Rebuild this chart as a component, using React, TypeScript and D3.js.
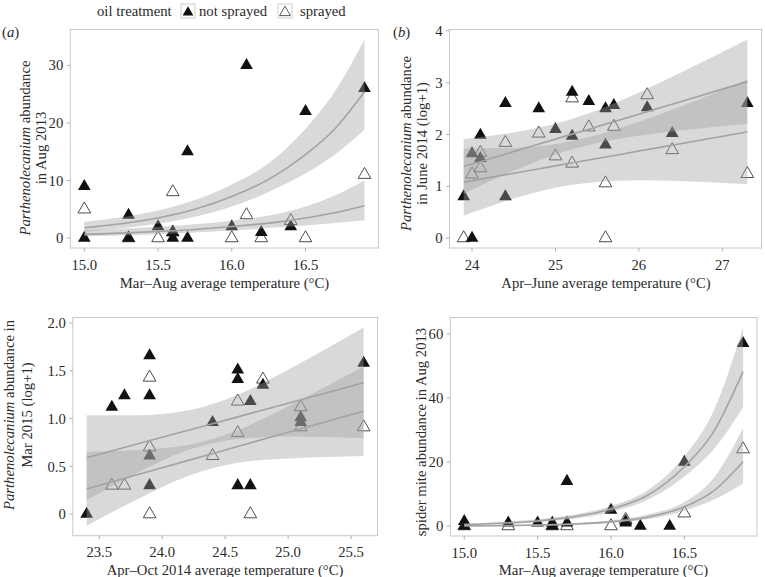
import React from 'react';
import * as d3 from 'd3';

type Pt = [number, number];

// ---------- Panel (a): Parthenolecanium, Aug 2013 vs Mar–Aug temperature ----------
const aNotSprayed: Pt[] = [
  [15.0, 9], [15.0, 0], [15.3, 4], [15.3, 0], [15.5, 2], [15.6, 1], [15.6, 0], [15.7, 15], [15.7, 0],
  [16.0, 2], [16.1, 30], [16.2, 1], [16.4, 2], [16.5, 22], [16.9, 26],
];
const aSprayed: Pt[] = [
  [15.0, 5], [15.3, 0], [15.5, 0], [15.6, 8], [15.6, 1], [16.0, 0], [16.1, 4], [16.2, 0], [16.4, 3], [16.5, 0], [16.9, 11],
];
const aFitX = [15.0, 15.25, 15.5, 15.75, 16.0, 16.25, 16.5, 16.7, 16.9];
const aFitNS = [1.8, 2.5, 3.5, 5.0, 7.2, 10.2, 14.5, 19.0, 25.4];
const aLoNS = [1.1, 1.7, 2.5, 3.7, 5.5, 8.0, 11.2, 14.5, 18.8];
const aHiNS = [2.8, 3.6, 4.8, 6.6, 9.3, 13.0, 19.0, 25.5, 34.5];
const aFitSP = [0.65, 0.86, 1.14, 1.5, 2.0, 2.6, 3.5, 4.4, 5.6];
const aLoSP = [0.3, 0.45, 0.65, 0.95, 1.3, 1.75, 2.2, 2.6, 3.1];
const aHiSP = [1.4, 1.6, 1.95, 2.4, 3.0, 3.9, 5.5, 7.4, 10.0];
const aXTicks = [15.0, 15.5, 16.0, 16.5];
const aYTicks = [0, 10, 20, 30];

// ---------- Panel (b): Parthenolecanium, June 2014 vs Apr–June temperature ----------
const bNotSprayed: Pt[] = [
  [23.9, 0.8], [24.0, 0], [24.0, 1.63], [24.1, 1.99], [24.1, 1.54], [24.4, 2.6], [24.4, 0.8], [24.8, 2.5],
  [25.0, 2.1], [25.2, 2.82], [25.2, 1.97], [25.4, 2.64], [25.6, 2.5], [25.6, 1.8], [25.7, 2.56],
  [26.1, 2.52], [26.4, 2.02], [27.3, 2.6],
];
const bSprayed: Pt[] = [
  [23.9, 0], [24.0, 1.23], [24.1, 1.65], [24.1, 1.35], [24.4, 1.84], [24.8, 2.02], [25.0, 1.58], [25.2, 2.7],
  [25.2, 1.44], [25.4, 2.14], [25.6, 1.06], [25.6, 0], [25.7, 2.15], [26.1, 2.76], [26.4, 1.7], [27.3, 1.24],
];
const bFitX = [23.9, 24.5, 25.0, 25.5, 26.0, 26.5, 27.3];
const bFitNS = [1.38, 1.669, 1.91, 2.151, 2.392, 2.633, 3.02];
const bLoNS = [0.852, 1.299, 1.615, 1.836, 1.974, 2.075, 2.206];
const bHiNS = [1.908, 2.039, 2.205, 2.466, 2.81, 3.191, 3.834];
const bFitSP = [1.08, 1.251, 1.394, 1.536, 1.679, 1.821, 2.05];
const bLoSP = [0.43, 0.762, 0.972, 1.084, 1.115, 1.1, 1.038];
const bHiSP = [1.73, 1.74, 1.816, 1.988, 2.243, 2.542, 3.062];
const bXTicks = [24, 25, 26, 27];
const bYTicks = [0, 1, 2, 3, 4];

// ---------- Panel (c): Parthenolecanium, Mar 2015 vs Apr–Oct 2014 temperature ----------
const cNotSprayed: Pt[] = [
  [23.4, 0], [23.6, 1.12], [23.7, 1.24], [23.9, 1.66], [23.9, 1.24], [23.9, 0.61], [23.9, 0.3],
  [24.4, 0.96], [24.6, 1.51], [24.6, 1.41], [24.6, 0.3], [24.7, 1.18], [24.7, 0.3], [24.8, 1.35],
  [25.1, 1.01], [25.1, 0.96], [25.6, 1.58],
];
const cSprayed: Pt[] = [
  [23.6, 0.3], [23.7, 0.3], [23.9, 1.43], [23.9, 0.7], [23.9, 0], [24.4, 0.61], [24.6, 1.18], [24.6, 0.85],
  [24.7, 0], [24.8, 1.41], [25.1, 1.12], [25.1, 0.91], [25.6, 0.91],
];
const cFitX = [23.4, 23.8, 24.2, 24.6, 25.0, 25.3, 25.6];
const cFitNS = [0.59, 0.733, 0.876, 1.018, 1.161, 1.267, 1.374];
const cLoNS = [0.145, 0.43, 0.668, 0.787, 0.812, 0.806, 0.794];
const cHiNS = [1.035, 1.035, 1.084, 1.249, 1.51, 1.728, 1.954];
const cFitSP = [0.264, 0.412, 0.56, 0.708, 0.856, 0.967, 1.078];
const cLoSP = [-0.122, 0.154, 0.397, 0.537, 0.583, 0.598, 0.608];
const cHiSP = [0.65, 0.67, 0.723, 0.879, 1.129, 1.336, 1.548];
const cXTicks = [23.5, 24.0, 24.5, 25.0, 25.5];
const cYTicks = [0, 0.5, 1.0, 1.5, 2.0];

// ---------- Panel (d): spider mites, Aug 2013 vs Mar–Aug temperature ----------
const dNotSprayed: Pt[] = [
  [15.0, 1.5], [15.0, 0], [15.3, 1], [15.5, 1], [15.6, 1], [15.6, 0], [15.7, 14], [15.7, 1],
  [16.0, 5], [16.1, 1.5], [16.1, 1], [16.2, 0], [16.4, 0], [16.5, 20], [16.9, 57],
];
const dSprayed: Pt[] = [
  [15.0, 0], [15.3, 0], [15.6, 0], [15.7, 0], [16.0, 0], [16.1, 2], [16.5, 4], [16.9, 24],
];
const dFitX = [15.0, 15.25, 15.5, 15.75, 16.0, 16.25, 16.5, 16.7, 16.9];
const dFitNS = [0.5, 0.9, 1.6, 2.9, 5.3, 9.6, 18.5, 29.5, 48.2];
const dLoNS = [0.3, 0.6, 1.2, 2.3, 4.4, 8.2, 15.5, 24, 37];
const dHiNS = [0.8, 1.3, 2.1, 3.6, 6.3, 11.2, 21.8, 36, 62];
const dFitSP = [0.06, 0.13, 0.29, 0.62, 1.3, 2.8, 6.0, 11, 20.1];
const dLoSP = [0.02, 0.06, 0.16, 0.4, 0.95, 2.1, 4.8, 8.2, 13.3];
const dHiSP = [0.15, 0.28, 0.5, 0.95, 1.8, 3.6, 7.5, 15, 30.5];
const dXTicks = [15.0, 15.5, 16.0, 16.5];
const dYTicks = [0, 20, 40, 60];

const legendLabels = ['not sprayed', 'sprayed'];

const FONT = 'Liberation Serif, Times New Roman, Times, serif';
const FS = 14.7;
const TXT = '#2a2a2a';

type PanelProps = {
  id: string;
  x0: number; x1: number; y0: number; y1: number;
  xDom: [number, number]; yDom: [number, number];
  xTicks: number[]; yTicks: number[];
  xFmt: (v: number) => string; yFmt: (v: number) => string;
  ns: Pt[]; sp: Pt[];
  fitX: number[];
  nsFit: number[]; nsLo: number[]; nsHi: number[];
  spFit: number[]; spLo: number[]; spHi: number[];
};

const triPath = d3.symbol(d3.symbolTriangle, 70)() as string;

function Panel(p: PanelProps) {
  const x = d3.scaleLinear().domain(p.xDom).range([p.x0, p.x1]);
  const y = d3.scaleLinear().domain(p.yDom).range([p.y1, p.y0]);
  const area = (lo: number[], hi: number[]) =>
    d3.area<number>()
      .x((_, i) => x(p.fitX[i]))
      .y0((_, i) => y(lo[i]))
      .y1((_, i) => y(hi[i]))
      .curve(d3.curveMonotoneX)(p.fitX) as string;
  const line = (f: number[]) =>
    d3.line<number>()
      .x((_, i) => x(p.fitX[i]))
      .y((_, i) => y(f[i]))
      .curve(d3.curveMonotoneX)(p.fitX) as string;
  return (
    <g>
      <defs>
        <clipPath id={p.id}>
          <rect x={p.x0} y={p.y0} width={p.x1 - p.x0} height={p.y1 - p.y0} />
        </clipPath>
      </defs>
      <g clipPath={`url(#${p.id})`}>
        {p.sp.map((d, i) => (
          <path key={'s' + i} d={triPath} transform={`translate(${x(d[0])},${y(d[1])})`}
            fill="none" stroke="#3a3a3a" strokeWidth={0.9} />
        ))}
        {p.ns.map((d, i) => (
          <path key={'n' + i} d={triPath} transform={`translate(${x(d[0])},${y(d[1])})`} fill="#111" />
        ))}
        <path d={area(p.nsLo, p.nsHi)} fill="#a0a0a0" fillOpacity={0.4} />
        <path d={line(p.nsFit)} fill="none" stroke="#a3a3a3" strokeWidth={1.6} />
        <path d={area(p.spLo, p.spHi)} fill="#a0a0a0" fillOpacity={0.4} />
        <path d={line(p.spFit)} fill="none" stroke="#a3a3a3" strokeWidth={1.6} />
      </g>
      <rect x={p.x0} y={p.y0} width={p.x1 - p.x0} height={p.y1 - p.y0} fill="none" stroke="#c8c8c8" strokeWidth={1} />
      {p.xTicks.map((t) => (
        <g key={'xt' + t}>
          <line x1={x(t)} x2={x(t)} y1={p.y1} y2={p.y1 + 3.5} stroke="#b0b0b0" strokeWidth={1} />
          <text x={x(t)} y={p.y1 + 21.5} textAnchor="middle" style={{ fontFamily: FONT }} fontSize={FS} fill={TXT}>{p.xFmt(t)}</text>
        </g>
      ))}
      {p.yTicks.map((t) => (
        <g key={'yt' + t}>
          <line x1={p.x0 - 3.5} x2={p.x0} y1={y(t)} y2={y(t)} stroke="#b0b0b0" strokeWidth={1} />
          <text x={p.x0 - 7} y={y(t)} dy="0.35em" textAnchor="end" style={{ fontFamily: FONT }} fontSize={FS} fill={TXT}>{p.yFmt(t)}</text>
        </g>
      ))}
    </g>
  );
}

const f1 = d3.format('.1f');
const fInt = d3.format('d');
const fHalf = (v: number) => (v === 0 ? '0' : d3.format('.1f')(v));

function YTitle({ x, y, children }: { x: number; y: number; children: React.ReactNode }) {
  return (
    <text transform={`translate(${x},${y}) rotate(-90)`} textAnchor="middle" dy="0.35em"
      style={{ fontFamily: FONT }} fontSize={FS} fill={TXT}>{children}</text>
  );
}

function XTitle({ x, y, label }: { x: number; y: number; label: string }) {
  return (
    <text x={x} y={y} textAnchor="middle" style={{ fontFamily: FONT }} fontSize={FS} fill={TXT}>{label}</text>
  );
}

export default function App() {
  const T = { fontFamily: FONT };
  return (
    <svg width={765} height={577} style={{ position: 'absolute', left: 0, top: 0, background: '#fff', fontFamily: FONT }}>
      <rect width={765} height={577} fill="#fff" />
      {/* Legend */}
      <text x={97} y={16} style={T} fontSize={FS} fill={TXT}>oil treatment</text>
      <rect x={181} y={4} width={14} height={14} fill="#fff" stroke="#cfcfcf" />
      <path d={triPath} transform="translate(188,12.5) scale(0.85)" fill="#111" />
      <text x={199} y={16} style={T} fontSize={FS} fill={TXT}>{legendLabels[0]}</text>
      <rect x={278} y={4} width={14} height={14} fill="#fff" stroke="#cfcfcf" />
      <path d={triPath} transform="translate(285,12.5) scale(0.85)" fill="none" stroke="#3a3a3a" strokeWidth={1} />
      <text x={300} y={16} style={T} fontSize={FS} fill={TXT}>{legendLabels[1]}</text>

      {/* Panel labels */}
      <text x={2} y={37} style={T} fontSize={FS} fill={TXT}>(<tspan fontStyle="italic">a</tspan>)</text>
      <text x={393} y={37} style={T} fontSize={FS} fill={TXT}>(<tspan fontStyle="italic">b</tspan>)</text>

      <Panel id="pa" x0={70.3} x1={378.5} y0={29.5} y1={248}
        xDom={[14.905, 16.995]} yDom={[-1.725, 36.225]}
        xTicks={aXTicks} yTicks={aYTicks} xFmt={f1} yFmt={fInt}
        ns={aNotSprayed} sp={aSprayed} fitX={aFitX}
        nsFit={aFitNS} nsLo={aLoNS} nsHi={aHiNS} spFit={aFitSP} spLo={aLoSP} spHi={aHiSP} />
      <YTitle x={24.5} y={148}><tspan fontStyle="italic">Parthenolecanium</tspan> abundance</YTitle>
      <YTitle x={41} y={148}>in Aug 2013</YTitle>
      <XTitle x={224.5} y={288} label="Mar–Aug average temperature (°C)" />

      <Panel id="pb" x0={449.5} x1={761.5} y0={29.5} y1={248}
        xDom={[23.73, 27.47]} yDom={[-0.1917, 4.026]}
        xTicks={bXTicks} yTicks={bYTicks} xFmt={fInt} yFmt={fInt}
        ns={bNotSprayed} sp={bSprayed} fitX={bFitX}
        nsFit={bFitNS} nsLo={bLoNS} nsHi={bHiNS} spFit={bFitSP} spLo={bLoSP} spHi={bHiSP} />
      <YTitle x={405.5} y={143.5}><tspan fontStyle="italic">Parthenolecanium</tspan> abundance</YTitle>
      <YTitle x={421.5} y={143.5}>in June 2014 (log+1)</YTitle>
      <XTitle x={606} y={288} label="Apr–June average temperature (°C)" />

      <Panel id="pc" x0={72.8} x1={377.5} y0={317.5} y1={535.7}
        xDom={[23.29, 25.71]} yDom={[-0.2258, 2.058]}
        xTicks={cXTicks} yTicks={cYTicks} xFmt={f1} yFmt={fHalf}
        ns={cNotSprayed} sp={cSprayed} fitX={cFitX}
        nsFit={cFitNS} nsLo={cLoNS} nsHi={cHiNS} spFit={cFitSP} spLo={cLoSP} spHi={cHiSP} />
      <YTitle x={9} y={415}><tspan fontStyle="italic">Parthenolecanium</tspan> abundance in</YTitle>
      <YTitle x={26.5} y={415}>Mar 2015 (log+1)</YTitle>
      <XTitle x={225} y={575} label="Apr–Oct 2014 average temperature (°C)" />

      <Panel id="pd" x0={450.3} x1={757} y0={317.5} y1={536}
        xDom={[14.905, 16.995]} yDom={[-3.1, 65.1]}
        xTicks={dXTicks} yTicks={dYTicks} xFmt={f1} yFmt={fInt}
        ns={dNotSprayed} sp={dSprayed} fitX={dFitX}
        nsFit={dFitNS} nsLo={dLoNS} nsHi={dHiNS} spFit={dFitSP} spLo={dLoSP} spHi={dHiSP} />
      <YTitle x={420.5} y={432}>spider mite abundance in Aug 2013</YTitle>
      <XTitle x={603.5} y={575} label="Mar–Aug average temperature (°C)" />
    </svg>
  );
}
